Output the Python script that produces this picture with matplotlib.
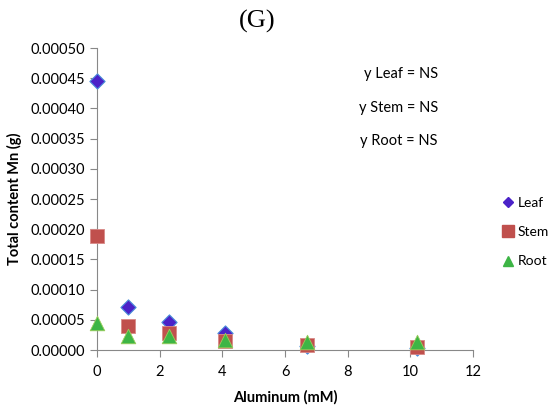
import matplotlib
matplotlib.use("Agg")
import matplotlib.pyplot as plt
from matplotlib.lines import Line2D

# === data ===
aluminum = [0, 1, 2.3, 4.1, 6.7, 10.2]
leaf = [0.000445, 0.000072, 0.000046, 0.000028, 0.000006, 0.000003]
stem = [0.000188, 0.000039, 0.000028, 0.000015, 0.000008, 0.000005]
root = [0.000044, 0.000023, 0.000023, 0.000017, 0.000014, 0.000014]
notes = ["y Leaf = NS", "y Stem = NS", "y Root = NS"]

plt.rcParams['font.family'] = ['Lato', 'DejaVu Sans']

fig = plt.figure(figsize=(5.5, 4.19), dpi=100)
ax = fig.add_axes([97/550, 1 - 350/419, (473-97)/550, (350-48)/419])

ax.scatter(aluminum, leaf, marker="D", s=60, color="#4B22C8", edgecolor="#4a90d9",
           linewidth=0.8, zorder=3, clip_on=False)
ax.scatter(aluminum, stem, marker="s", s=110, color="#C0504D", edgecolor="#d98a88",
           linewidth=0.6, zorder=4, clip_on=False)
ax.scatter(aluminum, root, marker="^", s=110, color="#3DB545", edgecolor="#9ACD5A",
           linewidth=0.6, zorder=5, clip_on=False)

ax.set_xlim(0, 12)
ax.set_ylim(0, 0.0005)
ax.set_xticks(range(0, 13, 2))
ax.set_yticks([i * 0.00005 for i in range(11)])
ax.set_yticklabels([f"{i * 0.00005:.5f}" for i in range(11)])
ax.tick_params(labelsize=10.5, color="#888888", length=5, width=0.8)
ax.tick_params(axis="x", pad=6)

for side in ["top", "right"]:
    ax.spines[side].set_visible(False)
for side in ["left", "bottom"]:
    ax.spines[side].set_color("#888888")
    ax.spines[side].set_linewidth(0.8)

ax.set_xlabel("Aluminum (mM)", fontsize=10.5, fontweight="bold", labelpad=8)
ax.set_ylabel("Total content Mn (g)", fontsize=10.5, fontweight="bold", labelpad=6)

fig.text(257/550, 1 - 21/419, "(G)", fontsize=19, family="Liberation Serif", ha="center", va="center")

for i, t in enumerate(notes):
    fig.text(438/550, 1 - (74 + 33.5 * i)/419, t, fontsize=10.5, ha="right", va="center")

handles = [
    Line2D([], [], marker="D", linestyle="", color="#4B22C8", markersize=5),
    Line2D([], [], marker="s", linestyle="", color="#C0504D", markersize=8),
    Line2D([], [], marker="^", linestyle="", color="#3DB545", markersize=7),
]
fig.legend(handles, ["Leaf", "Stem", "Root"], loc="center left", bbox_to_anchor=(502/550, 1 - 232/419),
           frameon=False, fontsize=10, handletextpad=0.3, labelspacing=1.25, handlelength=0.8,
           borderpad=0, borderaxespad=0)

fig.savefig("out.png", dpi=100)
